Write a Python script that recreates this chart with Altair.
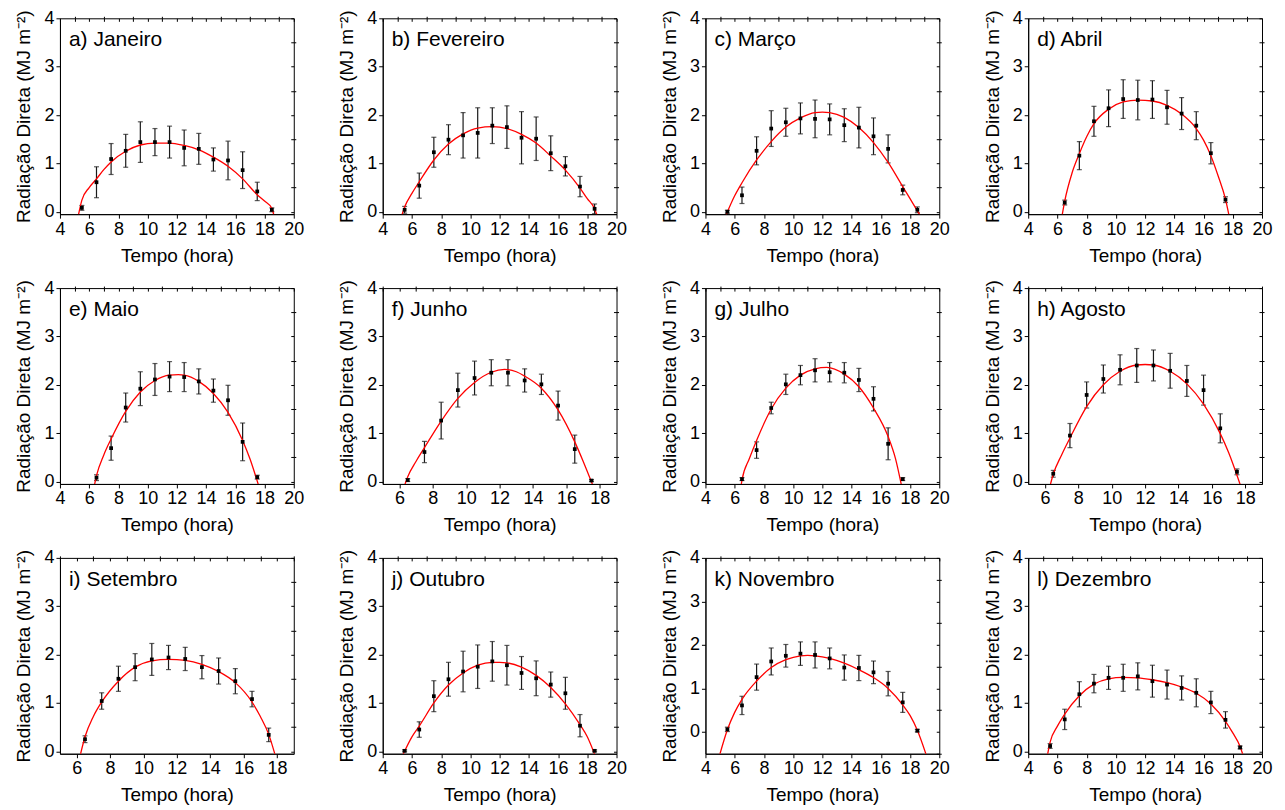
import altair as alt
import pandas as pd

FONT = "Liberation Sans"

LABELS = ["a) Janeiro", "b) Fevereiro", "c) Março", "d) Abril",
          "e) Maio", "f) Junho", "g) Julho", "h) Agosto",
          "i) Setembro", "j) Outubro", "k) Novembro", "l) Dezembro"]

H14 = [5.5, 6.5, 7.5, 8.5, 9.5, 10.5, 11.5, 12.5, 13.5, 14.5, 15.5, 16.5, 17.5, 18.5]
H12 = [6.5, 7.5, 8.5, 9.5, 10.5, 11.5, 12.5, 13.5, 14.5, 15.5, 16.5, 17.5]
HOURS = [H14, H14, H14, H12, H12, H12, H12, H12, H12, H14, H14, H14]

MEAN = [
    [0.08, 0.61, 1.09, 1.26, 1.44, 1.44, 1.44, 1.32, 1.30, 1.08, 1.06, 0.86, 0.42, 0.04],
    [0.04, 0.54, 1.23, 1.49, 1.58, 1.63, 1.78, 1.75, 1.53, 1.51, 1.21, 0.94, 0.52, 0.06],
    [0.00, 0.34, 1.26, 1.72, 1.85, 1.93, 1.92, 1.91, 1.79, 1.74, 1.56, 1.30, 0.45, 0.04],
    [0.19, 1.16, 1.87, 2.14, 2.33, 2.31, 2.32, 2.16, 2.03, 1.78, 1.21, 0.25],
    [0.08, 0.69, 1.53, 1.92, 2.11, 2.17, 2.16, 2.07, 1.88, 1.68, 0.82, 0.09],
    [0.03, 0.61, 1.26, 1.89, 2.14, 2.25, 2.25, 2.09, 2.01, 1.57, 0.67, 0.02],
    [0.05, 0.65, 1.52, 2.01, 2.20, 2.30, 2.26, 2.25, 2.10, 1.71, 0.78, 0.05],
    [0.16, 0.95, 1.79, 2.12, 2.31, 2.40, 2.40, 2.29, 2.08, 1.89, 1.10, 0.20],
    [0.25, 1.04, 1.50, 1.74, 1.90, 1.94, 1.91, 1.74, 1.66, 1.45, 1.08, 0.34],
    [0.01, 0.45, 1.14, 1.49, 1.65, 1.75, 1.86, 1.78, 1.62, 1.51, 1.38, 1.20, 0.53, 0.01],
    [0.06, 0.61, 1.26, 1.62, 1.75, 1.80, 1.77, 1.69, 1.48, 1.47, 1.37, 1.11, 0.68, 0.03],
    [0.11, 0.66, 1.18, 1.40, 1.52, 1.52, 1.55, 1.45, 1.38, 1.31, 1.21, 1.01, 0.65, 0.08],
]

ERR = [
    [0.05, 0.32, 0.32, 0.34, 0.42, 0.28, 0.33, 0.37, 0.32, 0.24, 0.40, 0.38, 0.19, 0.04],
    [0.07, 0.26, 0.31, 0.31, 0.47, 0.52, 0.37, 0.44, 0.54, 0.45, 0.36, 0.20, 0.21, 0.10],
    [0.03, 0.17, 0.29, 0.37, 0.29, 0.32, 0.39, 0.32, 0.34, 0.42, 0.38, 0.29, 0.10, 0.06],
    [0.05, 0.29, 0.31, 0.38, 0.40, 0.41, 0.39, 0.35, 0.33, 0.29, 0.22, 0.06],
    [0.06, 0.25, 0.30, 0.35, 0.33, 0.31, 0.30, 0.26, 0.24, 0.31, 0.39, 0.04],
    [0.03, 0.22, 0.38, 0.35, 0.35, 0.27, 0.27, 0.24, 0.21, 0.30, 0.29, 0.02],
    [0.03, 0.17, 0.12, 0.21, 0.20, 0.24, 0.20, 0.21, 0.24, 0.25, 0.33, 0.03],
    [0.07, 0.25, 0.27, 0.29, 0.31, 0.35, 0.32, 0.36, 0.32, 0.31, 0.30, 0.06],
    [0.07, 0.17, 0.26, 0.28, 0.33, 0.25, 0.24, 0.24, 0.27, 0.26, 0.16, 0.14],
    [0.02, 0.16, 0.32, 0.35, 0.42, 0.45, 0.41, 0.41, 0.34, 0.36, 0.26, 0.33, 0.23, 0.02],
    [0.05, 0.21, 0.30, 0.31, 0.26, 0.27, 0.30, 0.24, 0.29, 0.29, 0.26, 0.28, 0.23, 0.03],
    [0.05, 0.21, 0.26, 0.19, 0.24, 0.28, 0.28, 0.33, 0.30, 0.25, 0.29, 0.23, 0.17, 0.03],
]

FIT_X = [
    [5.27, 5.5, 6.0, 6.5, 7.0, 7.5, 8.5, 9.5, 10.5, 11.5, 12.5, 13.5, 14.5, 15.5, 16.5, 17.5, 18.0, 18.5, 18.63],
    [5.32, 5.5, 6.0, 6.5, 7.5, 8.5, 9.5, 10.5, 11.5, 12.5, 13.5, 14.5, 15.5, 16.5, 17.5, 18.0, 18.5, 18.65],
    [5.42, 6.0, 6.5, 7.5, 8.5, 9.5, 10.5, 11.5, 12.0, 12.5, 13.5, 14.5, 15.5, 16.5, 17.5, 18.0, 18.66],
    [6.33, 6.5, 7.0, 7.5, 8.0, 8.5, 9.5, 10.5, 11.5, 12.5, 13.5, 14.5, 15.5, 16.0, 16.5, 17.0, 17.5, 17.73],
    [6.37, 6.5, 7.0, 7.5, 8.5, 9.5, 10.5, 11.5, 12.1, 12.5, 13.5, 14.5, 15.5, 16.5, 17.0, 17.57],
    [6.33, 6.5, 7.0, 7.5, 8.5, 9.5, 10.5, 11.5, 12.3, 13.0, 13.5, 14.5, 15.5, 16.5, 17.0, 17.56],
    [6.45, 6.5, 7.0, 7.5, 8.5, 9.5, 10.5, 11.5, 12.3, 13.5, 14.5, 15.5, 16.5, 17.0, 17.4],
    [6.33, 6.5, 7.0, 7.5, 8.5, 9.5, 10.5, 11.5, 12.0, 12.5, 13.5, 14.5, 15.5, 16.5, 17.0, 17.69],
    [6.23, 6.5, 7.0, 7.5, 8.5, 9.5, 10.5, 11.5, 12.5, 13.5, 14.5, 15.5, 16.5, 17.0, 17.5, 17.87],
    [5.40, 6.0, 6.5, 7.5, 8.5, 9.5, 10.5, 11.5, 12.0, 12.5, 13.5, 14.5, 15.5, 16.5, 17.5, 18.0, 18.5],
    [4.98, 5.5, 6.0, 6.5, 7.5, 8.5, 9.5, 10.5, 11.0, 11.5, 12.5, 13.5, 14.5, 15.5, 16.5, 17.5, 18.0, 18.5, 19.1],
    [5.33, 5.5, 6.0, 6.5, 7.5, 8.5, 9.5, 10.5, 11.5, 12.5, 13.5, 14.5, 15.5, 16.5, 17.5, 18.0, 18.5, 18.68],
]

FIT_Y = [
    [-0.06, 0.24, 0.50, 0.68, 0.87, 1.03, 1.25, 1.38, 1.42, 1.42, 1.37, 1.28, 1.13, 0.94, 0.68, 0.35, 0.22, 0.07, -0.06],
    [-0.06, 0.10, 0.38, 0.62, 1.07, 1.40, 1.61, 1.73, 1.76, 1.72, 1.60, 1.42, 1.15, 0.86, 0.49, 0.27, 0.06, -0.06],
    [-0.06, 0.33, 0.60, 1.07, 1.45, 1.75, 1.94, 2.05, 2.06, 2.05, 1.95, 1.74, 1.43, 1.02, 0.52, 0.27, -0.06],
    [-0.06, 0.22, 0.80, 1.20, 1.55, 1.82, 2.12, 2.27, 2.31, 2.29, 2.20, 2.02, 1.72, 1.48, 1.16, 0.74, 0.26, -0.06],
    [-0.06, 0.12, 0.55, 0.88, 1.45, 1.85, 2.09, 2.20, 2.21, 2.20, 2.07, 1.82, 1.43, 0.85, 0.47, -0.06],
    [-0.06, 0.10, 0.42, 0.70, 1.25, 1.72, 2.05, 2.26, 2.32, 2.27, 2.18, 1.93, 1.48, 0.82, 0.42, -0.06],
    [-0.06, 0.03, 0.47, 0.85, 1.50, 1.93, 2.20, 2.33, 2.36, 2.22, 1.96, 1.52, 0.93, 0.48, -0.06],
    [-0.06, 0.15, 0.55, 0.90, 1.55, 2.00, 2.28, 2.41, 2.42, 2.41, 2.28, 2.02, 1.60, 0.99, 0.60, -0.06],
    [-0.06, 0.30, 0.72, 1.02, 1.45, 1.74, 1.87, 1.90, 1.88, 1.80, 1.65, 1.42, 1.02, 0.72, 0.35, -0.06],
    [-0.06, 0.30, 0.52, 1.00, 1.37, 1.62, 1.78, 1.84, 1.84, 1.83, 1.74, 1.57, 1.32, 0.98, 0.55, 0.30, -0.06],
    [-0.52, 0.05, 0.45, 0.75, 1.17, 1.48, 1.66, 1.75, 1.76, 1.75, 1.69, 1.58, 1.43, 1.25, 1.00, 0.62, 0.38, 0.04, -0.52],
    [-0.06, 0.19, 0.52, 0.77, 1.15, 1.39, 1.50, 1.53, 1.52, 1.48, 1.42, 1.33, 1.20, 0.98, 0.62, 0.38, 0.10, -0.06],
]

X_DOMAINS = [[4, 20], [4, 20], [4, 20], [4, 20],
             [4, 20], [5, 19], [4, 20], [5, 19],
             [5, 19], [4, 20], [4, 20], [4, 20]]
Y_DOMAINS = [[-0.05, 4]] * 10 + [[-0.5, 4], [-0.05, 4]]

Y_TITLE = "Radiação Direta (MJ m⁻²)"
X_TITLE = "Tempo (hora)"

PW, PH = 234, 196
INK = "#1a1a1a"


def panel(i):
    pts = pd.DataFrame({
        "hora": HOURS[i],
        "rad": MEAN[i],
        "lo": [m - e for m, e in zip(MEAN[i], ERR[i])],
        "hi": [m + e for m, e in zip(MEAN[i], ERR[i])],
    })
    fit = pd.DataFrame({"hora": FIT_X[i], "rad": FIT_Y[i]})
    lab = pd.DataFrame({"t": [LABELS[i]]})

    xd, yd = X_DOMAINS[i], Y_DOMAINS[i]
    xs = alt.Scale(domain=xd, nice=False, zero=False)
    ys = alt.Scale(domain=yd, nice=False, zero=False)
    xmaj = [v for v in range(int(xd[0]), int(xd[1]) + 1) if v % 2 == 0]
    xmin_ = [v for v in range(int(xd[0]), int(xd[1]) + 1) if v % 2 == 1]
    ymaj = [0, 1, 2, 3, 4]
    ymin_ = [v / 2 for v in range(-1, 9) if v % 2 != 0 and v / 2 >= yd[0]]
    yall = sorted(ymaj + ymin_)

    ax_b = alt.Axis(values=xmaj, title=X_TITLE, tickSize=4, labelPadding=2,
                    titlePadding=8, format="d", labelFlush=False, labelOverlap=False)
    ax_l = alt.Axis(values=ymaj, title=Y_TITLE, tickSize=4, labelPadding=2,
                    titlePadding=10, format="d", labelFlush=False, labelOverlap=False)
    ax_b2 = alt.Axis(values=xmin_, title=None, labels=False, domain=False, tickSize=2)
    ax_l2 = alt.Axis(values=ymin_, title=None, labels=False, domain=False, tickSize=2)
    ax_t = alt.Axis(orient="top", values=xmaj + xmin_, title=None, labels=False,
                    domain=False, tickSize=3, offset=-3)
    ax_r = alt.Axis(orient="right", values=yall, title=None, labels=False,
                    domain=False, tickSize=3, offset=-3)

    base = alt.Chart(pts)
    bars = base.mark_rule(color=INK, strokeWidth=1.2).encode(
        x=alt.X("hora:Q", scale=xs, axis=ax_b),
        y=alt.Y("lo:Q", scale=ys, axis=ax_l),
        y2="hi:Q",
    )
    cap_lo = base.mark_tick(color=INK, orient="horizontal", size=5, thickness=1.2).encode(
        x=alt.X("hora:Q", scale=xs, axis=ax_b2),
        y=alt.Y("lo:Q", scale=ys, axis=ax_l2),
    )
    cap_hi = base.mark_tick(color=INK, orient="horizontal", size=5, thickness=1.2).encode(
        x=alt.X("hora:Q", scale=xs, axis=ax_t),
        y=alt.Y("hi:Q", scale=ys, axis=ax_r),
    )
    dots = base.mark_square(color="black", size=14, opacity=1).encode(
        x=alt.X("hora:Q", scale=xs, axis=None),
        y=alt.Y("rad:Q", scale=ys, axis=None),
    )
    line = alt.Chart(fit).mark_line(color="#ff0000", strokeWidth=1.3, clip=True,
                                    interpolate="monotone").encode(
        x=alt.X("hora:Q", scale=xs, axis=None),
        y=alt.Y("rad:Q", scale=ys, axis=None),
    )
    text = alt.Chart(lab).mark_text(align="left", baseline="top", fontSize=21,
                                    font=FONT, color="black").encode(
        x=alt.value(9), y=alt.value(11), text="t:N"
    )
    return alt.layer(bars, cap_lo, cap_hi, line, dots, text).resolve_axis(
        x="independent", y="independent"
    ).properties(width=PW, height=PH)


chart = alt.concat(
    *[panel(i) for i in range(12)],
    columns=4,
    spacing={"row": 74, "column": 89},
    bounds="flush",
).properties(
    padding={"left": 6, "top": 0, "right": 4, "bottom": 0},
    background="white",
).configure_view(
    stroke="black", strokeWidth=1
).configure_axis(
    labelFont=FONT, titleFont=FONT, labelFontSize=18, titleFontSize=19,
    labelColor="black", titleColor="black", tickColor="black",
    domainColor="black", titleFontWeight="normal", grid=False,
    domainWidth=1, tickWidth=1
)

chart.save("out.html", embed_options={"renderer": "svg", "actions": False})
